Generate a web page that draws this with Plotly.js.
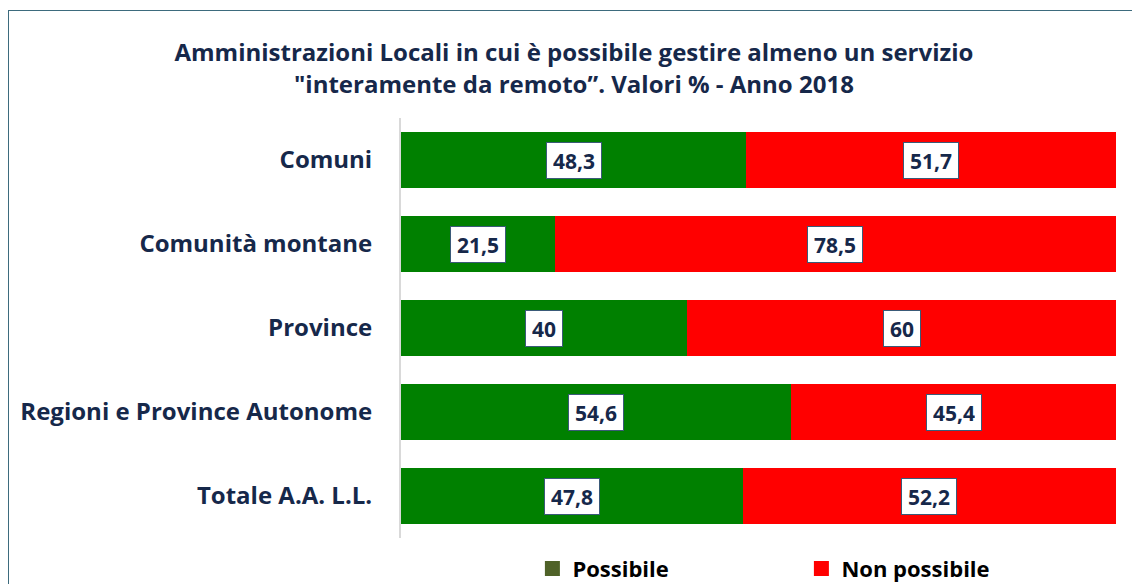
<!DOCTYPE html>
<html>
<head>
<meta charset="utf-8">
<script src="https://cdn.plot.ly/plotly-3.0.1.min.js"></script>
<style>
html,body{margin:0;padding:0;background:#fff;overflow:hidden;}
#chart{position:absolute;left:0;top:0;width:1132px;height:584px;}
#frame{position:absolute;left:8px;top:10px;width:1200px;height:700px;border:1px solid #3d6b7d;pointer-events:none;}
</style>
</head>
<body>
<div id="chart"></div>
<div id="frame"></div>
<script>
const categories = ["Comuni", "Comunità montane", "Province", "Regioni e Province Autonome", "Totale A.A. L.L."];
const possibile = [48.3, 21.5, 40, 54.6, 47.8];
const nonPossibile = [51.7, 78.5, 60, 45.4, 52.2];
const seriesNames = ["Possibile", "Non possibile"];
const barColors = ["#008000", "#ff0000"];
const legendColors = ["#4f6228", "#ff0000"];

const fmt = v => String(v).replace('.', ',');
const navy = "#16284a";
const font = "'Open Sans', 'Noto Sans', sans-serif";

const traces = [
  {type:'bar', orientation:'h', name:seriesNames[0], y:categories, x:possibile,
   marker:{color:barColors[0]}, showlegend:false, hoverinfo:'x+y'},
  {type:'bar', orientation:'h', name:seriesNames[1], y:categories, x:nonPossibile,
   marker:{color:barColors[1]}, showlegend:false, hoverinfo:'x+y'},
  {type:'scatter', mode:'markers', name:seriesNames[0], x:[null], y:[null],
   marker:{symbol:'square', size:15, color:legendColors[0]}, showlegend:true},
  {type:'scatter', mode:'markers', name:seriesNames[1], x:[null], y:[null],
   marker:{symbol:'square', size:15, color:legendColors[1]}, showlegend:true}
];

const labelFont = {family:font, size:21, color:navy, weight:'bold'};
const annotations = [];
categories.forEach((c, i) => {
  annotations.push({x: possibile[i]/2, y: c, xref:'x', yref:'y', text: fmt(possibile[i]),
    showarrow:false, bgcolor:'#ffffff', bordercolor:'#3a5a78', borderwidth:1, borderpad:6,
    height:23, font:labelFont});
  annotations.push({x: possibile[i] + nonPossibile[i]/2, y: c, xref:'x', yref:'y', text: fmt(nonPossibile[i]),
    showarrow:false, bgcolor:'#ffffff', bordercolor:'#3a5a78', borderwidth:1, borderpad:6,
    height:23, font:labelFont});
});

const layout = {
  width:1132, height:584,
  margin:{l:401, r:16, t:118, b:46, pad:0, autoexpand:false},
  paper_bgcolor:'#ffffff', plot_bgcolor:'#ffffff',
  barmode:'stack', bargap:0.333,
  title:{text:'Amministrazioni Locali in cui è possibile gestire almeno un servizio<br>"interamente da remoto”. Valori % - Anno 2018',
    x:0.507, xanchor:'center', yref:'container', y:0.895, yanchor:'middle',
    font:{family:font, size:24, color:navy, weight:'bold'}},
  xaxis:{range:[0,100], visible:false, fixedrange:true},
  yaxis:{autorange:'reversed', type:'category', showline:true, linecolor:'#d9d9d9', linewidth:2,
    ticks:'', ticklabelstandoff:22, showgrid:false, zeroline:false,
    tickfont:{family:font, size:24, color:navy, weight:'bold'}},
  legend:{orientation:'h', traceorder:'normal', x:0.56, xanchor:'center', xref:'paper',
    yref:'container', y:0.026, yanchor:'middle',
    entrywidth:224, entrywidthmode:'pixels',
    font:{family:font, size:22, color:'#000000', weight:'bold'}},
  annotations: annotations,
  showlegend:true
};

Plotly.newPlot('chart', traces, layout, {displayModeBar:false});
</script>
</body>
</html>
